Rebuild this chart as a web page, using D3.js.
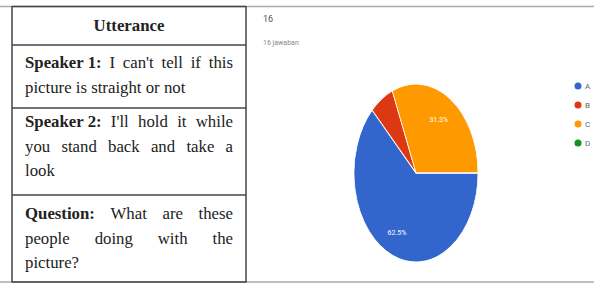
<!DOCTYPE html>
<html><head><meta charset="utf-8">
<script src="https://cdn.jsdelivr.net/npm/d3@7"></script>
<style>body{margin:0;background:#fff}svg{display:block}</style>
</head><body>
<svg id="c" width="594" height="284"></svg>
<script>
const categories = ["A", "B", "C", "D"];
const values = [10, 1, 5, 0];
const colors = ["#3366cc", "#dc3912", "#ff9900", "#109618"];
const titleLines = ["16", "16 jawaban"];
const header = "Utterance";
const rows = [
  {bold: "Speaker 1:", lines: ["I can't tell if this", "picture is straight or not"], justify: [true, false]},
  {bold: "Speaker 2:", lines: ["I'll hold it while", "you stand back and take a", "look"], justify: [true, true, false]},
  {bold: "Question:", lines: ["What are these", "people doing with the", "picture?"], justify: [true, true, false]}
];

const svg = d3.select("#c");
const lineCol = "#444";
svg.append("line").attr("x1",0).attr("x2",594).attr("y1",6.5).attr("y2",6.5).attr("stroke","#aaa").attr("stroke-width",1.5);
svg.append("line").attr("x1",0).attr("x2",594).attr("y1",282).attr("y2",282).attr("stroke","#aaa").attr("stroke-width",1.5);
const rowLines = [6.5, 45, 108, 195, 282];
rowLines.forEach(y => svg.append("line").attr("x1",12).attr("x2",246).attr("y1",y).attr("y2",y).attr("stroke",lineCol).attr("stroke-width",1.5));
[12, 246].forEach(x => svg.append("line").attr("x1",x).attr("x2",x).attr("y1",6).attr("y2",282.5).attr("stroke",lineCol).attr("stroke-width",1.5));

const font = "'Liberation Serif','Times New Roman',serif";
const fs = 16.8;
svg.append("text").attr("x",129).attr("y",31).attr("text-anchor","middle")
  .attr("font-family",font).attr("font-size",fs).attr("font-weight","bold").attr("fill","#222").text(header);

const x0 = 25, x1 = 233;
const rowStartY = [68, 127, 219];
const lh = 24.5;
function measure(txt, bold){
  const t = svg.append("text").attr("font-family",font).attr("font-size",fs).attr("font-weight",bold?"bold":"normal").text(txt);
  const w = t.node().getComputedTextLength(); t.remove(); return w;
}
const spW = measure("a a", false) - measure("aa", false);
rows.forEach((r, ri) => {
  r.lines.forEach((ln, li) => {
    const y = rowStartY[ri] + li*lh;
    let words = ln.split(" ").map(w => ({t:w, b:false}));
    if (li === 0) words.unshift({t:r.bold, b:true});
    const widths = words.map(w => measure(w.t, w.b));
    const total = d3.sum(widths);
    let gap = r.justify[li] && words.length > 1 ? Math.max(2, (x1 - x0 - total)/(words.length-1)) : spW;
    let x = x0;
    words.forEach((w, i) => {
      svg.append("text").attr("x",x).attr("y",y).attr("font-family",font).attr("font-size",fs)
        .attr("font-weight",w.b?"bold":"normal").attr("fill","#222").text(w.t);
      x += widths[i] + gap;
    });
  });
});

svg.append("text").attr("x",263).attr("y",22).attr("font-family","Roboto, sans-serif").attr("font-size",9).attr("fill","#555").text(titleLines[0]);
svg.append("text").attr("x",263).attr("y",45).attr("font-family","Roboto, sans-serif").attr("font-size",7).attr("fill","#888").text(titleLines[1]);

const cx = 416, cy = 173, rx = 62, ry = 89;
const pie = d3.pie().sort(null).startAngle(Math.PI/2).endAngle(Math.PI/2 + 2*Math.PI);
const arcs = pie(values);
const arc = d3.arc().innerRadius(0).outerRadius(1);
const g = svg.append("g").attr("transform",`translate(${cx},${cy})`);
g.append("g").attr("transform",`scale(${rx},${ry})`).selectAll("path").data(arcs).join("path")
  .attr("d", arc).attr("fill",(d,i)=>colors[i]).attr("stroke","#fff").attr("stroke-width",0.012);
const total = d3.sum(values);
const lab = d3.arc().innerRadius(0.72).outerRadius(0.72);
g.selectAll("text").data(arcs.filter(d => d.value/total > 0.1)).join("text")
  .attr("x", d => lab.centroid(d)[0]*rx - 2).attr("y", d => lab.centroid(d)[1]*ry + 2.5)
  .attr("text-anchor","middle").attr("font-family","Roboto, sans-serif").attr("font-size",7).attr("fill","#fff")
  .text(d => (Math.round(d.value/total*1000)/10).toFixed(1) + "%");

const lg = svg.append("g");
categories.forEach((c, i) => {
  const y = 86 + i*19;
  lg.append("circle").attr("cx",578).attr("cy",y).attr("r",3.5).attr("fill",colors[i]);
  lg.append("text").attr("x",585).attr("y",y+3).attr("font-family","Roboto, sans-serif").attr("font-size",8).attr("fill","#666").text(c);
});
</script>
</body></html>
